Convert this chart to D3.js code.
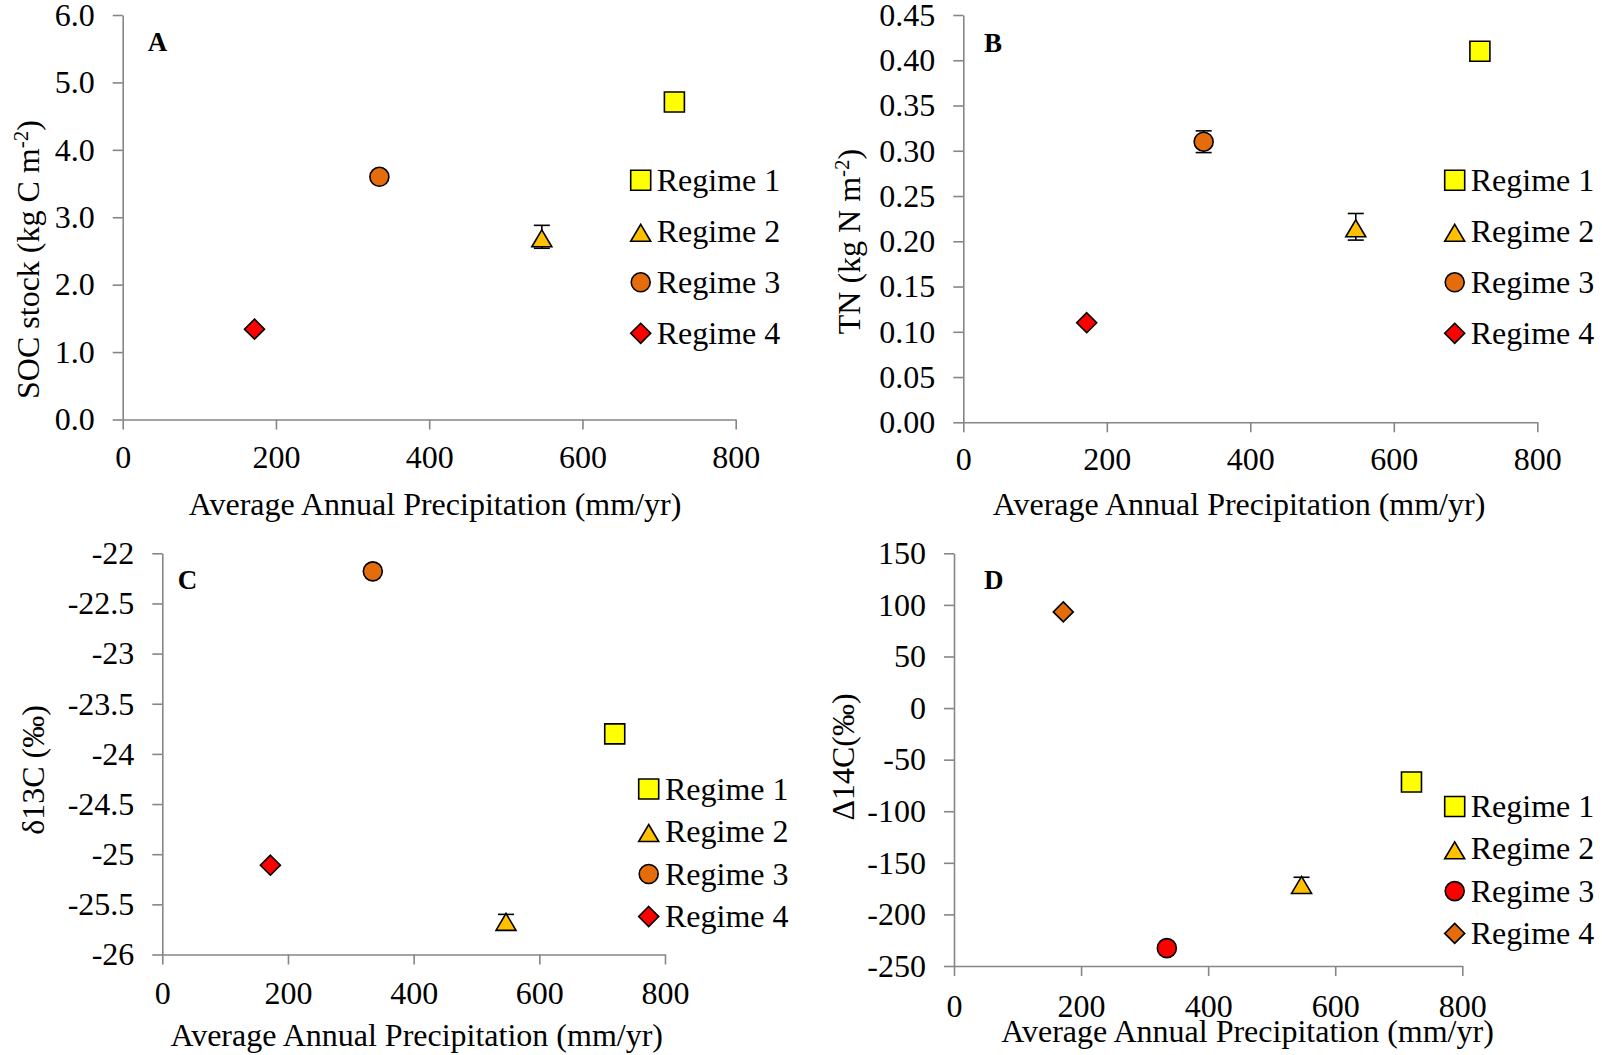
<!DOCTYPE html>
<html><head><meta charset="utf-8">
<script src="https://cdn.jsdelivr.net/npm/d3@7"></script>
<style>
body{margin:0;background:#fff}
text{font-family:"Liberation Serif","Times New Roman",serif;fill:#000}
</style>
</head><body>
<svg id="chart" width="1602" height="1055"></svg>
<script>
// ---- data ----
const regimes = ["Regime 1", "Regime 2", "Regime 3", "Regime 4"];
const precip = [720, 547, 335, 172];
const socStock = [4.71, 2.71, 3.60, 1.34];
const socErr = [0, 0.17, 0, 0];
const tnStock = [0.41, 0.216, 0.310, 0.11];
const tnErr = [0, 0.0147, 0.012, 0];
const d13C = [-23.80, -25.66, -22.18, -25.11];
const d13CErr = [0, 0.06, 0, 0];
const D14C = [-71.7, -170, -232.7, 93.2];
const D14CErr = [0, 6, 0, 0];
const xTicks = [0, 200, 400, 600, 800];
const socTicks = [0, 1, 2, 3, 4, 5, 6];
const tnTicks = [0, 0.05, 0.10, 0.15, 0.20, 0.25, 0.30, 0.35, 0.40, 0.45];
const d13CTicks = [-26, -25.5, -25, -24.5, -24, -23.5, -23, -22.5, -22];
const D14CTicks = [-250, -200, -150, -100, -50, 0, 50, 100, 150];
const shapesABC = ["square", "triangle", "circle", "diamond"];
const colorsABC = ["#FFFF00", "#FFC000", "#E46C0A", "#FF0000"];
const colorsD = ["#FFFF00", "#FFC000", "#FF0000", "#E46C0A"];

const svg = d3.select("#chart");
const FS = 32;

function shapePath(s) {
  if (s === "square") return "M-10,-10H10V10H-10Z";
  if (s === "triangle") return "M0,-7L10,10L-10,10Z";
  if (s === "diamond") return "M0,-10L10,0L0,10L-10,0Z";
  return d3.arc()({innerRadius: 0, outerRadius: 9.5, startAngle: 0, endAngle: 2 * Math.PI});
}

function panel(cfg) {
  const g = svg.append("g");
  const x = d3.scaleLinear().domain([0, 800]).range(cfg.xr);
  const y = d3.scaleLinear().domain(cfg.yd).range(cfg.yr);
  const fmt = v => cfg.fmt(v).replace("\u2212", "-");

  const ya = g.append("g").attr("transform", `translate(${cfg.xr[0]},0)`)
    .call(d3.axisLeft(y).tickValues(cfg.yTicks).tickSize(10).tickSizeOuter(0).tickPadding(18).tickFormat(fmt));
  const xa = g.append("g").attr("transform", `translate(0,${cfg.yr[0]})`)
    .call(d3.axisBottom(x).tickValues(xTicks).tickSize(10).tickSizeOuter(0).tickFormat(d3.format("d")));
  [ya, xa].forEach(a => {
    a.select(".domain").attr("stroke", "#868686").attr("stroke-width", 1.6);
    a.selectAll(".tick line").attr("stroke", "#868686").attr("stroke-width", 1.6);
    a.selectAll("text").attr("font-size", FS).attr("font-family", "Liberation Serif, serif").attr("fill", "#000");
  });
  xa.selectAll("text").attr("y", cfg.xLabelY).attr("dy", 0);

  // axis titles
  g.append("text").attr("x", cfg.xTitle[0]).attr("y", cfg.xTitle[1])
    .attr("text-anchor", "middle").attr("font-size", FS)
    .text("Average Annual Precipitation (mm/yr)");
  const yt = g.append("text").attr("text-anchor", "middle").attr("font-size", FS)
    .attr("transform", `translate(${cfg.yTitle[0]},${cfg.yTitle[1]}) rotate(-90)`);
  yt.append("tspan").text(cfg.yLabel[0]);
  if (cfg.yLabel.length > 1) {
    yt.append("tspan").attr("font-size", 21).attr("dy", -11).text(cfg.yLabel[1]);
    yt.append("tspan").attr("dy", 11).text(cfg.yLabel[2]);
  }
  // panel letter
  g.append("text").attr("x", cfg.letterPos[0]).attr("y", cfg.letterPos[1])
    .attr("font-size", 27).attr("font-weight", "bold").text(cfg.letter);

  const data = regimes.map((r, i) => ({r, x: precip[i], y: cfg.vals[i], e: cfg.errs[i], shape: shapesABC[i], color: cfg.colors[i]}));

  // error bars (behind markers)
  data.filter(d => d.e > 0).forEach(d => {
    const cx = x(d.x), y1 = y(d.y + d.e), y2 = y(d.y - d.e);
    const eg = g.append("g").attr("stroke", "#000").attr("stroke-width", 1.6);
    eg.append("line").attr("x1", cx).attr("x2", cx).attr("y1", y1).attr("y2", y2);
    eg.append("line").attr("x1", cx - 8).attr("x2", cx + 8).attr("y1", y1).attr("y2", y1);
    eg.append("line").attr("x1", cx - 8).attr("x2", cx + 8).attr("y1", y2).attr("y2", y2);
  });

  g.selectAll("path.pt").data(data).join("path").attr("class", "pt")
    .attr("d", d => shapePath(d.shape))
    .attr("transform", d => `translate(${x(d.x)},${y(d.y)})`)
    .attr("fill", d => d.color).attr("stroke", "#000").attr("stroke-width", 1.6);

  // legend
  const lg = g.append("g");
  data.forEach((d, i) => {
    const ly = cfg.legend.y0 + i * cfg.legend.step;
    lg.append("path").attr("d", shapePath(d.shape))
      .attr("transform", `translate(${cfg.legend.mx},${ly})`)
      .attr("fill", d.color).attr("stroke", "#000").attr("stroke-width", 1.6);
    lg.append("text").attr("x", cfg.legend.tx).attr("y", ly + 10.5)
      .attr("font-size", FS).text(d.r);
  });
}

panel({letter: "A", xr: [122.7, 735.7], yr: [419.5, 15], yd: [0, 6], yTicks: socTicks,
  fmt: d3.format(".1f"), vals: socStock, errs: socErr, colors: colorsABC,
  xLabelY: 48.5, xTitle: [435, 515], yTitle: [39, 259.5], yLabel: ["SOC stock (kg C m", "-2", ")"],
  letterPos: [147.7, 50.7], legend: {mx: 640.7, tx: 656.7, y0: 180.3, step: 51}});

panel({letter: "B", xr: [963.3, 1537.3], yr: [422.3, 15], yd: [0, 0.45], yTicks: tnTicks,
  fmt: d3.format(".2f"), vals: tnStock, errs: tnErr, colors: colorsABC,
  xLabelY: 48, xTitle: [1239, 515], yTitle: [860, 241.5], yLabel: ["TN (kg N m", "-2", ")"],
  letterPos: [984, 51.7], legend: {mx: 1454.7, tx: 1470.7, y0: 180.3, step: 51}});

panel({letter: "C", xr: [162.3, 665], yr: [954.5, 553.3], yd: [-26, -22], yTicks: d13CTicks,
  fmt: d3.format(""), vals: d13C, errs: d13CErr, colors: colorsABC,
  xLabelY: 49, xTitle: [416.7, 1046], yTitle: [43.5, 770], yLabel: ["\u03b413C (\u2030)"],
  letterPos: [177.7, 588.6], legend: {mx: 648.7, tx: 665, y0: 789, step: 42.5}});

panel({letter: "D", xr: [954, 1462.3], yr: [966, 553.3], yd: [-250, 150], yTicks: D14CTicks,
  fmt: d3.format("d"), vals: D14C, errs: D14CErr, colors: colorsD,
  xLabelY: 50.5, xTitle: [1247.5, 1042], yTitle: [853.5, 757], yLabel: ["\u039414C(\u2030)"],
  letterPos: [984, 588.6], legend: {mx: 1454.7, tx: 1470.7, y0: 806.5, step: 42.3}});
</script>
</body></html>
